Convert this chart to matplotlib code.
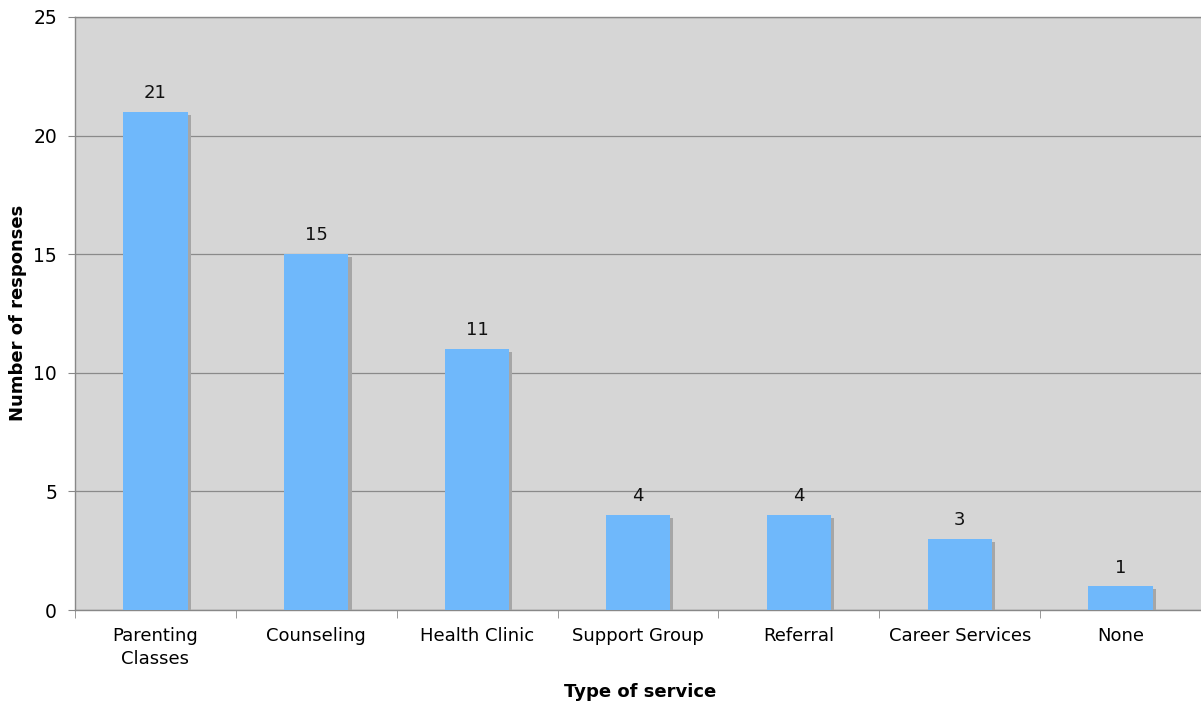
import matplotlib
matplotlib.use("Agg")
import matplotlib.pyplot as plt
import matplotlib.patheffects as pe
import numpy as np

plt.rcParams["font.family"] = ["DejaVu Sans"]

categories = ["Parenting\nClasses", "Counseling", "Health Clinic", "Support Group",
              "Referral", "Career Services", "None"]
values = [21, 15, 11, 4, 4, 3, 1]

fig = plt.figure(figsize=(12.01, 7.06), dpi=100)
ax = fig.add_axes([75/1201, 96/706, 1 - 75/1201, (610-17)/706])
ax.set_facecolor("#d6d6d6")

x = np.arange(len(categories))
bars = ax.bar(x, values, width=0.4, color="#6fb8fb", zorder=3,
              path_effects=[pe.SimplePatchShadow(offset=(2.2, -2.2), shadow_rgbFace="#a6a6a6", alpha=1.0),
                            pe.Normal()])
for xi, v in zip(x, values):
    ax.annotate(str(v), (xi, v), xytext=(0, 7), textcoords="offset points",
                ha="center", va="bottom", fontsize=13, color="#111111")

ax.set_xlim(-0.5, len(categories) - 0.5)
ax.set_ylim(0, 25)
ax.set_yticks([0, 5, 10, 15, 20, 25])
ax.yaxis.grid(True, color="#8a8a8a", linewidth=0.9, zorder=1)
ax.set_axisbelow(True)

ax.set_xticks(x)
ax.set_xticklabels(categories, fontsize=13, linespacing=1.4)
ax.tick_params(axis="x", length=0, pad=12)
ax.set_xticks(np.arange(len(categories) + 1) - 0.5, minor=True)
ax.tick_params(axis="x", which="minor", length=6, color="#888888")
ax.tick_params(axis="y", labelsize=13.5, length=5, color="#888888", pad=8)

for s in ["left", "bottom", "top"]:
    ax.spines[s].set_color("#888888")
    ax.spines[s].set_linewidth(1.0)
ax.spines["right"].set_visible(False)

fig.text(640/1201, 1 - 692/706, "Type of service", fontsize=13, fontweight="bold",
         ha="center", va="center")
fig.text(18/1201, 1 - 313/706, "Number of responses", fontsize=13, fontweight="bold",
         ha="center", va="center", rotation=90)

fig.savefig("out.png", dpi=100)
